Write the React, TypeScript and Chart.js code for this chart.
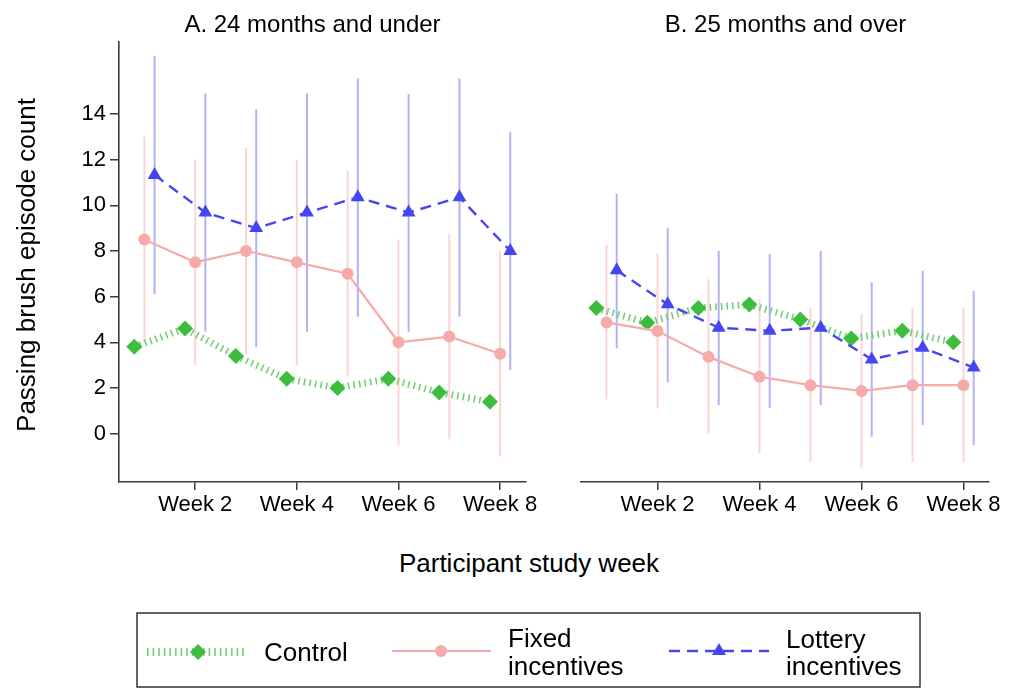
import React, { useEffect, useRef } from "react";
import { Chart, registerables } from "chart.js";

Chart.register(...registerables);

const FONT = '"Liberation Sans", Arial, Helvetica, sans-serif';

// ---- data ----
const weeks = [1, 2, 3, 4, 5, 6, 7, 8];
const weekTicks = [2, 4, 6, 8];
const yTicks = [0, 2, 4, 6, 8, 10, 12, 14];
const offsets = { control: -0.2, fixed: 0, lottery: 0.2 };

// Panel A: 24 months and under
const controlA = [3.8, 4.6, 3.4, 2.4, 2.0, 2.4, 1.8, 1.4];
const fixedA = [8.5, 7.5, 8.0, 7.5, 7.0, 4.0, 4.25, 3.5];
const fixedALo = [4.0, 3.0, 3.5, 3.0, 2.5, -0.5, -0.25, -1.0];
const fixedAHi = [13.0, 12.0, 12.5, 12.0, 11.5, 8.5, 8.75, 8.0];
const lotteryA = [11.33, 9.68, 9.0, 9.68, 10.35, 9.68, 10.35, 8.0];
const lotteryALo = [6.1, 4.46, 3.78, 4.46, 5.12, 4.45, 5.12, 2.78];
const lotteryAHi = [16.55, 14.9, 14.2, 14.9, 15.55, 14.87, 15.55, 13.2];

// Panel B: 25 months and over
const controlB = [5.5, 4.85, 5.5, 5.65, 5.0, 4.17, 4.5, 4.0];
const fixedB = [4.87, 4.49, 3.36, 2.49, 2.12, 1.87, 2.12, 2.12];
const fixedBLo = [1.5, 1.11, 0.0, -0.87, -1.24, -1.49, -1.24, -1.24];
const fixedBHi = [8.25, 7.88, 6.76, 5.88, 5.51, 5.24, 5.51, 5.51];
const lotteryB = [7.15, 5.66, 4.64, 4.5, 4.64, 3.25, 3.76, 2.89];
const lotteryBLo = [3.73, 2.24, 1.25, 1.11, 1.25, -0.14, 0.37, -0.51];
const lotteryBHi = [10.5, 9.0, 8.0, 7.87, 8.0, 6.63, 7.14, 6.25];

const Y_MIN = -2.12;
const Y_MAX = 17.15;
const X_MIN = 0.5;
const X_MAX = 8.5;

const C_GREEN_LINE = "#74cf74";
const C_GREEN_PT = "#3dbd3d";
const C_PINK = "#f6abab";
const C_PINK_ERR = "#fdd4d4";
const C_BLUE = "#4646f0";
const C_BLUE_ERR = "#b2b2f5";
const C_AXIS = "#3a3a3a";

const pts = (vals: number[], off: number) =>
  vals.map((v, i) => ({ x: weeks[i] + off, y: v }));

const errorBarPlugin = {
  id: "errorBars",
  beforeDatasetsDraw(chart: any) {
    const ctx = chart.ctx;
    const yScale = chart.scales.y;
    ctx.save();
    chart.data.datasets.forEach((ds: any, di: number) => {
      if (!ds.errLo) return;
      const meta = chart.getDatasetMeta(di);
      ctx.strokeStyle = ds.errColor;
      ctx.lineWidth = 2;
      ds.errLo.forEach((lo: number, i: number) => {
        const el = meta.data[i];
        if (!el) return;
        ctx.beginPath();
        ctx.moveTo(el.x, yScale.getPixelForValue(lo));
        ctx.lineTo(el.x, yScale.getPixelForValue(ds.errHi[i]));
        ctx.stroke();
      });
    });
    ctx.restore();
  },
};

function makeConfig(
  ctrl: number[],
  fixed: number[],
  fixedLo: number[],
  fixedHi: number[],
  lot: number[],
  lotLo: number[],
  lotHi: number[],
  showY: boolean,
  padLeft: number,
  padRight: number
): any {
  return {
    type: "line",
    data: {
      datasets: [
        {
          label: "Control",
          data: pts(ctrl, offsets.control),
          borderColor: C_GREEN_LINE,
          borderWidth: 7,
          borderDash: [1.6, 4],
          borderCapStyle: "butt",
          pointStyle: "rectRot",
          pointRadius: 8,
          pointBackgroundColor: C_GREEN_PT,
          pointBorderColor: C_GREEN_PT,
          pointBorderWidth: 0,
          tension: 0,
          order: 3,
        },
        {
          label: "Fixed incentives",
          data: pts(fixed, offsets.fixed),
          errLo: fixedLo,
          errHi: fixedHi,
          errColor: C_PINK_ERR,
          borderColor: C_PINK,
          borderWidth: 2.2,
          pointStyle: "circle",
          pointRadius: 6,
          pointBackgroundColor: C_PINK,
          pointBorderColor: C_PINK,
          pointBorderWidth: 0,
          tension: 0,
          order: 2,
        },
        {
          label: "Lottery incentives",
          data: pts(lot, offsets.lottery),
          errLo: lotLo,
          errHi: lotHi,
          errColor: C_BLUE_ERR,
          borderColor: C_BLUE,
          borderWidth: 2.4,
          borderDash: [11, 7],
          pointStyle: "triangle",
          pointRadius: 8,
          pointBackgroundColor: C_BLUE,
          pointBorderColor: C_BLUE,
          pointBorderWidth: 0,
          tension: 0,
          order: 1,
        },
      ],
    },
    options: {
      responsive: false,
      animation: false,
      events: [],
      layout: { padding: { top: 42, right: padRight, left: padLeft, bottom: 0 } },
      plugins: {
        legend: { display: false },
        tooltip: { enabled: false },
        title: { display: false },
      },
      scales: {
        x: {
          type: "linear",
          min: X_MIN,
          max: X_MAX,
          afterBuildTicks: (s: any) => {
            s.ticks = weekTicks.map((v) => ({ value: v }));
          },
          afterFit: (s: any) => {
            s.height = 58;
          },
          ticks: {
            callback: (v: any) => "Week " + v,
            font: { size: 22, family: FONT },
            color: "#000",
            padding: 2,
            maxRotation: 0,
            autoSkip: false,
          },
          grid: {
            display: true,
            drawOnChartArea: false,
            drawTicks: true,
            tickLength: 8,
            color: C_AXIS,
            lineWidth: 1.5,
          },
          border: { display: true, color: C_AXIS, width: 1.6 },
        },
        y: {
          type: "linear",
          display: showY,
          min: Y_MIN,
          max: Y_MAX,
          afterBuildTicks: (s: any) => {
            s.ticks = yTicks.map((v) => ({ value: v }));
          },
          afterFit: (s: any) => {
            s.width = showY ? 119 : 0;
          },
          ticks: {
            font: { size: 22, family: FONT },
            color: "#000",
            padding: 4,
          },
          grid: {
            display: true,
            drawOnChartArea: false,
            drawTicks: true,
            tickLength: 9,
            color: C_AXIS,
            lineWidth: 1.5,
          },
          border: { display: true, color: C_AXIS, width: 1.6 },
        },
      },
    },
    plugins: [errorBarPlugin],
  };
}

const Txt = ({
  x,
  y,
  size,
  children,
  rot,
  left,
}: {
  x: number;
  y: number;
  size: number;
  children: any;
  rot?: boolean;
  left?: boolean;
}) => (
  <div
    style={{
      position: "absolute",
      left: x,
      top: y,
      transform: left
        ? "translate(0,-50%)"
        : `translate(-50%,-50%)${rot ? " rotate(-90deg)" : ""}`,
      fontSize: size,
      lineHeight: 1,
      whiteSpace: "nowrap",
      color: "#000",
      fontFamily: FONT,
    }}
  >
    {children}
  </div>
);

export default function App() {
  const refA = useRef<HTMLCanvasElement>(null);
  const refB = useRef<HTMLCanvasElement>(null);

  useEffect(() => {
    const a = new Chart(
      refA.current as HTMLCanvasElement,
      makeConfig(controlA, fixedA, fixedALo, fixedAHi, lotteryA, lotteryALo, lotteryAHi, true, 0, 13)
    );
    const b = new Chart(
      refB.current as HTMLCanvasElement,
      makeConfig(controlB, fixedB, fixedBLo, fixedBHi, lotteryB, lotteryBLo, lotteryBHi, false, 21, 29)
    );
    return () => {
      a.destroy();
      b.destroy();
    };
  }, []);

  return (
    <div
      style={{
        position: "absolute",
        left: 0,
        top: 0,
        width: 1018,
        height: 688,
        background: "#fff",
        overflow: "hidden",
        fontFamily: FONT,
      }}
    >
      <canvas
        ref={refA}
        width={540}
        height={540}
        style={{ position: "absolute", left: 0, top: 0, width: 540, height: 540 }}
      />
      <canvas
        ref={refB}
        width={458}
        height={540}
        style={{ position: "absolute", left: 560, top: 0, width: 458, height: 540 }}
      />
      <Txt x={312.5} y={24} size={24}>A. 24 months and under</Txt>
      <Txt x={785.5} y={24} size={24}>B. 25 months and over</Txt>
      <Txt x={26} y={265} size={26} rot>Passing brush episode count</Txt>
      <Txt x={529} y={563} size={26}>Participant study week</Txt>

      <svg
        width={1018}
        height={688}
        style={{ position: "absolute", left: 0, top: 0, pointerEvents: "none" }}
      >
        <rect x={137} y={613} width={783} height={74} fill="none" stroke="#333" strokeWidth={1.5} />
        <line x1={147} y1={652} x2={247} y2={652} stroke={C_GREEN_LINE} strokeWidth={8} strokeDasharray="1.6 4" />
        <polygon points="198,644 206,652 198,660 190,652" fill={C_GREEN_PT} />
        <line x1={392} y1={651} x2={491} y2={651} stroke={C_PINK} strokeWidth={2.2} />
        <circle cx={441} cy={651} r={6} fill={C_PINK} />
        <line x1={669} y1={651} x2={769} y2={651} stroke={C_BLUE} strokeWidth={2.4} strokeDasharray="11 7" />
        <polygon points="719,643 726,655 712,655" fill={C_BLUE} />
      </svg>
      <Txt x={264} y={652} size={26} left>Control</Txt>
      <Txt x={508} y={638} size={26} left>Fixed</Txt>
      <Txt x={508} y={666} size={26} left>incentives</Txt>
      <Txt x={786} y={639} size={26} left>Lottery</Txt>
      <Txt x={786} y={666} size={26} left>incentives</Txt>
    </div>
  );
}
